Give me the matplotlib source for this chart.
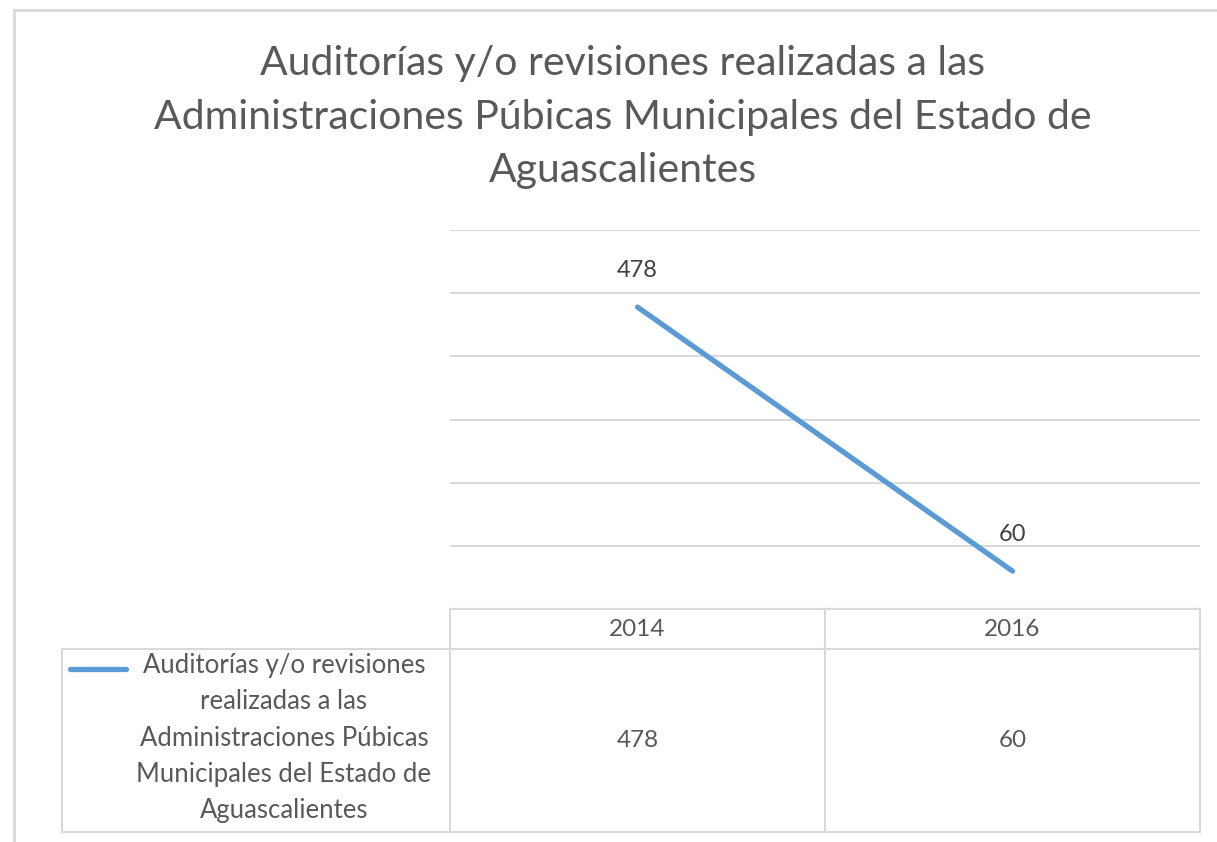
import matplotlib.pyplot as plt
from matplotlib.lines import Line2D

years = ["2014", "2016"]
values = [478, 60]
series_name = "Auditorías y/o revisiones realizadas a las Administraciones Púbicas Municipales del Estado de Aguascalientes"
title = "Auditorías y/o revisiones realizadas a las\nAdministraciones Púbicas Municipales del Estado de\nAguascalientes"
legend_text = "Auditorías y/o revisiones\nrealizadas a las\nAdministraciones Púbicas\nMunicipales del Estado de\nAguascalientes"

W, H = 1217, 842
text_col = "#595959"
grid_col = "#d9d9d9"
line_col = "#5b9bd5"
plt.rcParams['font.family'] = ['Lato', 'DejaVu Sans']

fig = plt.figure(figsize=(W / 100, H / 100), dpi=100)


def fx(px):
    return px / W


def fy(py):
    return 1 - py / H


def hline(x0, x1, y, **kw):
    fig.add_artist(Line2D([fx(x0), fx(x1)], [fy(y), fy(y)], transform=fig.transFigure,
                          color=kw.get("color", grid_col), lw=kw.get("lw", 1.5)))


def vline(x, y0, y1, **kw):
    fig.add_artist(Line2D([fx(x), fx(x)], [fy(y0), fy(y1)], transform=fig.transFigure,
                          color=kw.get("color", grid_col), lw=kw.get("lw", 1.5)))


# chart border (top and left visible)
hline(14, W, 10, lw=2)
vline(14, 10, H, lw=2)

# title
fig.text(fx(623), fy(117), title, ha="center", va="center", fontsize=29.5,
         color=text_col, linespacing=1.54)

# plot area
left, right, top, bottom = 450, 1200, 230, 609
ax = fig.add_axes([fx(left), fy(bottom), fx(right - left), (bottom - top) / H])
x = list(range(len(years)))
ax.plot(x, values, color=line_col, lw=3.8, solid_capstyle="round")
for xi, v in zip(x, values):
    ax.annotate(str(v), (xi, v), xytext=(0, 26), textcoords="offset points",
                ha="center", va="center", fontsize=17, color="#404040")
ax.set_xlim(-0.5, len(years) - 0.5)
ax.set_ylim(0, 600)
ax.set_yticks(range(0, 601, 100))
ax.yaxis.grid(True, color=grid_col, lw=1.5)
ax.set_axisbelow(True)
ax.tick_params(left=False, bottom=False, labelleft=False, labelbottom=False)
for s in ax.spines.values():
    s.set_visible(False)

# data table
row1, row2, row3 = 609, 649, 832
col_w = (right - left) / len(years)
hline(left, right, row1)
hline(62, right, row2)
hline(62, right, row3)
vline(62, row2, row3)
for i in range(len(years) + 1):
    vline(left + i * col_w, row1, row3)
for i, (yr, v) in enumerate(zip(years, values)):
    cx = left + (i + 0.5) * col_w
    fig.text(fx(cx), fy((row1 + row2) / 2), yr, ha="center", va="center",
             fontsize=17.5, color=text_col)
    fig.text(fx(cx), fy((row2 + row3) / 2), str(v), ha="center", va="center",
             fontsize=17.5, color=text_col)

# legend key in table
fig.add_artist(Line2D([fx(70), fx(126)], [fy(669), fy(669)], transform=fig.transFigure,
                      color=line_col, lw=3.8, solid_capstyle="round"))
fig.text(fx(284), fy(738), legend_text, ha="center", va="center", fontsize=18.5,
         color=text_col, linespacing=1.56)

fig.savefig("out.png", dpi=100, facecolor="white")
